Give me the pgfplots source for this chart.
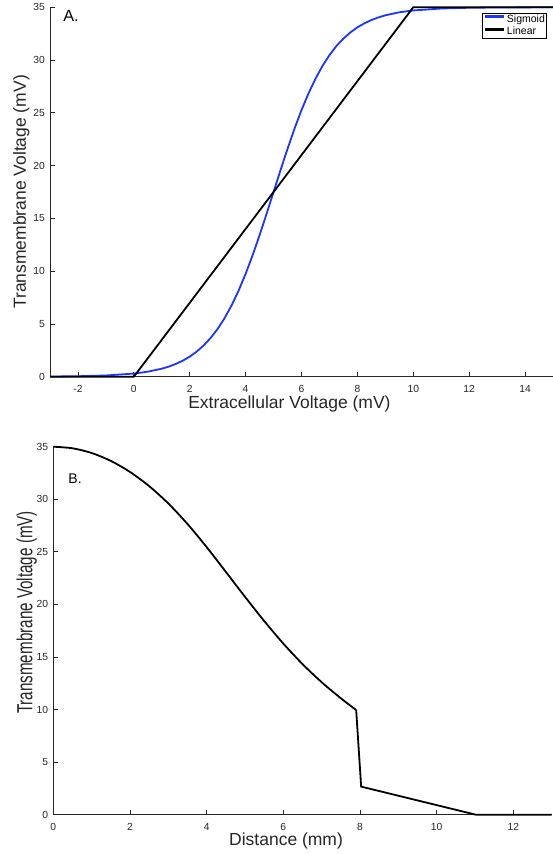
\documentclass[border=0pt]{standalone}
\usepackage{fontspec}
\setmainfont{Liberation Sans}
\usepackage{pgfplots}
\pgfplotsset{compat=1.18}

\definecolor{sigBlue}{HTML}{1A35FF}
\definecolor{axGray}{HTML}{262626}

\pgfplotsset{
  matpanel/.style={
    scale only axis,
    anchor=south west,
    axis lines*=left,
    axis line style={draw=axGray, line width=0.8pt, -},
    tick style={draw=axGray, line width=0.8pt},
    tick align=inside,
    major tick length=5pt,
    ymin=0, ymax=35,
    ytick={0,5,10,15,20,25,30,35},
    yticklabels={0,5,10,15,20,25,30,35},
    ticklabel style={font=\fontsize{10.3}{12}\selectfont, text=axGray},
    xticklabel style={anchor=north, inner sep=0pt, yshift=-8.5pt},
    yticklabel style={anchor=east, inner sep=0pt, xshift=-5pt},
    label style={font=\fontsize{17.5}{20}\selectfont, text=axGray, inner sep=0pt},
    clip=false,
  }
}

\begin{document}
\begin{tikzpicture}
  % A. transfer functions
  \begin{axis}[matpanel,
      at={(50pt,477.3pt)}, width=503pt, height=369.4pt,
      xmin=-3, xmax=15,
      xtick={-2,0,2,4,6,8,10,12,14},
      xticklabels={{-2},0,2,4,6,8,10,12,14},
      xlabel={Extracellular Voltage (mV)},
      ylabel={Transmembrane Voltage (mV)},
      xlabel style={at={(axis description cs:0.476,-0.0855)}, anchor=base},
      ylabel style={at={(axis description cs:-0.0478,0.5)}, anchor=base},
      legend style={at={(rel axis cs:0.9874,0.9854)}, anchor=north east,
        draw=black, line width=0.6pt, fill=white,
        font=\fontsize{10.5}{12}\selectfont,
        inner xsep=1.5pt, inner ysep=1.5pt, row sep=2pt, column sep=1pt,
        nodes={inner sep=0pt, text height=8pt, text depth=2.4pt}},
      legend cell align=left,
      legend image code/.code={\draw[#1, line width=3pt] (0pt,2.8pt) -- (19pt,2.8pt);},
    ]
    \addplot[sigBlue, line width=1.8pt] coordinates {
      (-3,0.0172) (-2,0.0445) (-1,0.1151) (0,0.2966) (0.5,0.4751) (1,0.7584)
      (1.25,0.9573) (1.5,1.2056) (1.75,1.5158) (2,1.901) (2.25,2.378) (2.5,2.962)
      (2.75,3.675) (3,4.534) (3.25,5.559) (3.5,6.766) (3.75,8.161) (4,9.744)
      (4.25,11.50) (4.5,13.41) (4.75,15.43) (5,17.5) (5.25,19.57) (5.5,21.59)
      (5.75,23.50) (6,25.26) (6.25,26.84) (6.5,28.23) (6.75,29.44) (7,30.47)
      (7.25,31.33) (7.5,32.04) (7.75,32.62) (8,33.10) (8.25,33.48) (8.5,33.79)
      (8.75,34.04) (9,34.24) (9.5,34.53) (10,34.70) (11,34.885) (12,34.955)
      (13,34.983) (14,34.994) (15,34.997)
    };
    \addplot[black, line width=1.8pt] coordinates {
      (-3,0) (0,0) (10,35) (15,35)
    };
    \legend{Sigmoid, Linear}
    \node[anchor=north west, inner sep=0pt, font=\fontsize{16.3}{18}\selectfont]
      at (rel axis cs:0.026,0.9927) {A.};
  \end{axis}

  % B. profile along distance
  \begin{axis}[matpanel,
      at={(53.3pt,39.3pt)}, width=498.4pt, height=368pt,
      xmin=0, xmax=13,
      xtick={0,2,4,6,8,10,12},
      xticklabels={0,2,4,6,8,10,12},
      xlabel={Distance (mm)},
      ylabel={\scalebox{0.868}[1.25]{Transmembrane Voltage (mV)}},
      xlabel style={at={(axis description cs:0.467,-0.0842)}, anchor=base},
      ylabel style={at={(axis description cs:-0.0421,0.5495)}, anchor=base},
    ]
    \addplot[black, line width=1.8pt, smooth] coordinates {
      (0,35.0) (0.5,34.85) (1,34.4) (1.5,33.65) (2,32.6) (2.5,31.25)
      (3,29.6) (3.5,27.65) (4,25.45) (4.5,23.1) (5,20.725) (5.5,18.425)
      (6,16.275) (6.5,14.325) (7,12.6) (7.5,11.075) (7.9,9.955)
    };
    \addplot[black, line width=1.8pt] coordinates {
      (7.9,9.955) (8.03,2.67) (11.02,0) (13,0)
    };
    \node[anchor=north west, inner sep=0pt, font=\fontsize{14}{16}\selectfont]
      at (rel axis cs:0.030,0.9277) {B.};
  \end{axis}

  \pgfresetboundingbox
  \path[use as bounding box] (0,0) rectangle (553pt,854pt);
\end{tikzpicture}
\end{document}
